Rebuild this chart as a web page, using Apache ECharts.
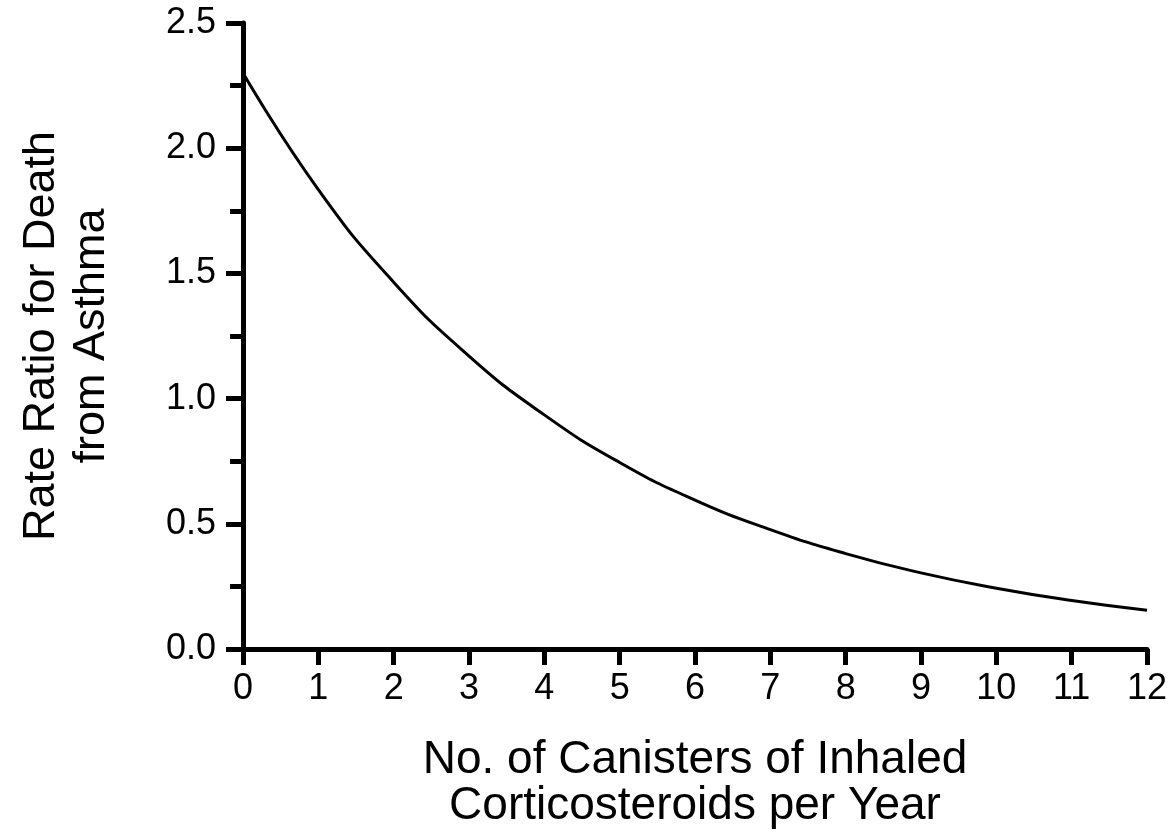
<!DOCTYPE html>
<html>
<head>
<meta charset="utf-8">
<script src="https://cdn.jsdelivr.net/npm/echarts@6/dist/echarts.min.js"></script>
<style>
html,body{margin:0;padding:0;background:#fff;}
#chart{width:1173px;height:834px;}
</style>
</head>
<body>
<div id="chart"></div>
<script>
const canisters = [0, 1, 2, 3, 4, 5, 6, 7, 8, 9, 10, 11, 12];
const rateRatio = [2.30, 1.835, 1.465, 1.17, 0.935, 0.745, 0.595, 0.477, 0.381, 0.304, 0.243, 0.194, 0.155];
const xTitle = 'No. of Canisters of Inhaled\nCorticosteroids per Year';
const yTitle = 'Rate Ratio for Death\nfrom Asthma';

const FONT = '"Liberation Sans", Arial, Helvetica, sans-serif';
const chart = echarts.init(document.getElementById('chart'), null, {renderer: 'canvas'});
chart.setOption({
  backgroundColor: '#ffffff',
  animation: false,
  grid: {left: 243, right: 26, top: 23, bottom: 179, containLabel: false},
  xAxis: {
    type: 'value', min: 0, max: 12, interval: 1,
    name: xTitle, nameLocation: 'middle', nameGap: 88,
    nameTextStyle: {fontFamily: FONT, fontSize: 46, lineHeight: 46, color: '#000'},
    axisLine: {show: true, onZero: false, lineStyle: {color: '#000', width: 5}},
    axisTick: {show: true, length: 16, lineStyle: {color: '#000', width: 5}},
    axisLabel: {fontFamily: FONT, fontSize: 36, color: '#000', margin: 22},
    splitLine: {show: false}
  },
  yAxis: {
    type: 'value', min: 0, max: 2.5, interval: 0.5,
    name: yTitle, nameLocation: 'middle', nameGap: 126,
    nameTextStyle: {fontFamily: FONT, fontSize: 45, lineHeight: 50, color: '#000'},
    axisLine: {show: true, onZero: false, lineStyle: {color: '#000', width: 5}},
    axisTick: {show: true, length: 17, lineStyle: {color: '#000', width: 5}},
    minorTick: {show: true, splitNumber: 2, length: 13, lineStyle: {color: '#000', width: 5}},
    axisLabel: {fontFamily: FONT, fontSize: 36, color: '#000', margin: 27,
      formatter: v => v.toFixed(1)},
    splitLine: {show: false}
  },
  series: [{
    type: 'line',
    data: canisters.map((c, i) => [c, rateRatio[i]]),
    smooth: 0.5,
    showSymbol: false,
    lineStyle: {color: '#000', width: 3},
    clip: false
  }]
});
</script>
</body>
</html>
